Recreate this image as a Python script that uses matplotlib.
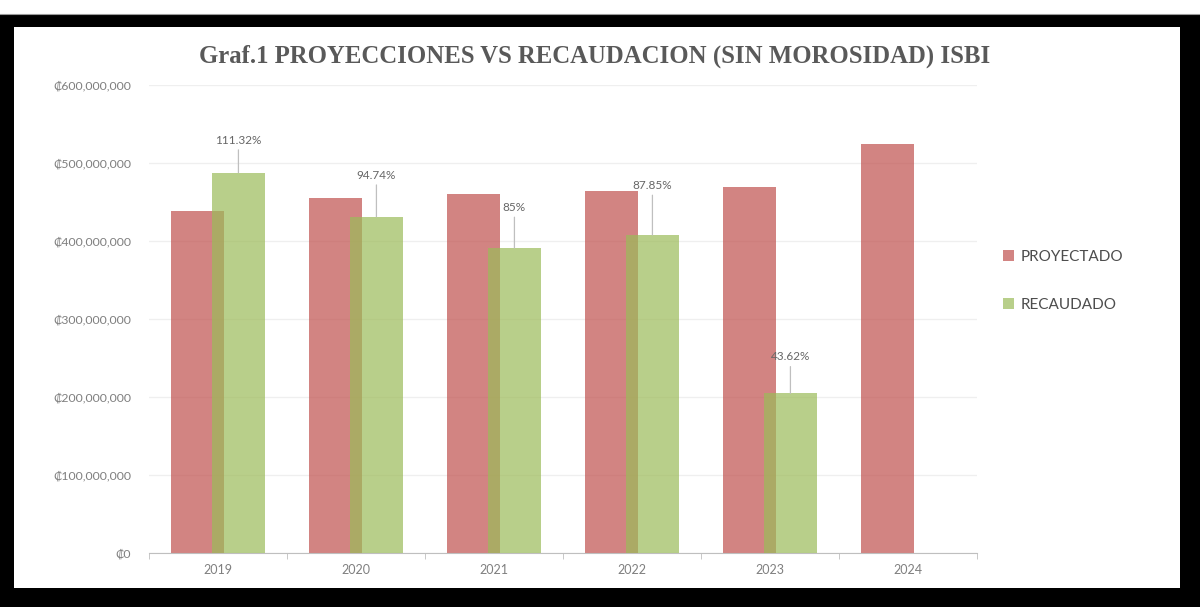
import matplotlib.pyplot as plt
from matplotlib.patches import Rectangle
import numpy as np

# ISBI: projected vs collected (without arrears), in colones
years = ["2019", "2020", "2021", "2022", "2023", "2024"]
proyectado = [438e6, 455e6, 460e6, 464e6, 469e6, 524e6]
# collected as a share of the projection (no data yet for 2024)
porcentaje = [111.32, 94.74, 85.0, 87.85, 43.62]
etiquetas = ["111.32%", "94.74%", "85%", "87.85%", "43.62%"]
recaudado = [p * c / 100 for p, c in zip(proyectado, porcentaje)]

# label lift above each green bar, in pixels
label_lift = [27, 36, 35, 44, 31]

rojo = "#C0504D"
verde = "#9BBB59"
gris = "#7F7F7F"

fig = plt.figure(figsize=(12, 6.07), dpi=100)
fig.patch.set_facecolor("white")

W, H = 1200, 607
# black frame below a thin white strip, white inside
fig.patches.append(Rectangle((0, 0), 1, 1 - 14 / H, transform=fig.transFigure,
                             facecolor="black", edgecolor="none", zorder=-3))
fig.add_artist(plt.Line2D([0, 1], [1 - 13.5 / H, 1 - 13.5 / H], color="#9a9a9a",
                          lw=0.8, zorder=-1))
fig.patches.append(Rectangle((14 / W, 19 / H), (1180 - 14) / W, (580 - 19) / H,
                             transform=fig.transFigure, facecolor="white",
                             edgecolor="none", zorder=-2))

ax = fig.add_axes([149 / W, (H - 553) / H, (977 - 149) / W, (553 - 85) / H])
ax.set_facecolor("none")

x = np.arange(len(years))
ancho = 0.39
desp = 0.148

ax.bar(x - desp, proyectado, ancho, color=rojo, alpha=0.7, label="PROYECTADO", zorder=2)
xr = x[:len(recaudado)] + desp
ax.bar(xr, recaudado, ancho, color=verde, alpha=0.7, label="RECAUDADO", zorder=3)

# percentage callouts with a thin leader line down to the bar
for xi, val, txt, lift in zip(xr, recaudado, etiquetas, label_lift):
    ax.annotate(txt, xy=(xi, val), xytext=(0, lift), textcoords="offset pixels",
                ha="center", va="bottom", fontsize=8.5, color="#666666",
                family=["Lato", "DejaVu Sans"],
                arrowprops=dict(arrowstyle="-", color="#BFBFBF", lw=0.9,
                                shrinkA=1, shrinkB=0))

ax.set_xlim(-0.5, len(years) - 0.5)
ax.set_ylim(0, 600e6)
ax.set_yticks(np.arange(0, 600e6 + 1, 100e6))
ax.set_yticklabels(["₡0" if v == 0 else "₡{:,.0f}".format(v) for v in ax.get_yticks()],
                   family=["Lato", "DejaVu Sans"], fontsize=8.8, color=gris)
ax.set_xticks(x)
ax.set_xticklabels(years, family=["Lato", "DejaVu Sans"], fontsize=9, color=gris)
ax.set_xticks(np.arange(-0.5, len(years)), minor=True)

ax.grid(axis="y", color="#EFEFEF", lw=0.9, zorder=0)
ax.set_axisbelow(True)
for s in ["top", "right", "left"]:
    ax.spines[s].set_visible(False)
ax.spines["bottom"].set_color("#BFBFBF")
ax.tick_params(axis="y", length=0, pad=13)
ax.tick_params(axis="x", which="major", length=0, pad=8)
ax.tick_params(axis="x", which="minor", length=4, color="#BFBFBF", direction="out")

fig.text(595 / W, 1 - 56 / H, "Graf.1 PROYECCIONES VS RECAUDACION (SIN MOROSIDAD) ISBI",
         ha="center", va="center", fontsize=17.8, fontweight="bold",
         family="Liberation Serif", color="#595959")

ax.legend(loc="center left", bbox_to_anchor=(989 / W, 1 - 281 / H),
          bbox_transform=fig.transFigure, frameon=False, handlelength=0.75,
          handleheight=0.75, handletextpad=0.4, labelspacing=2.2,
          prop={"family": ["Lato", "DejaVu Sans"], "size": 11}, labelcolor="#4D4D4D")

fig.savefig("out.png", dpi=100, facecolor=fig.get_facecolor())
